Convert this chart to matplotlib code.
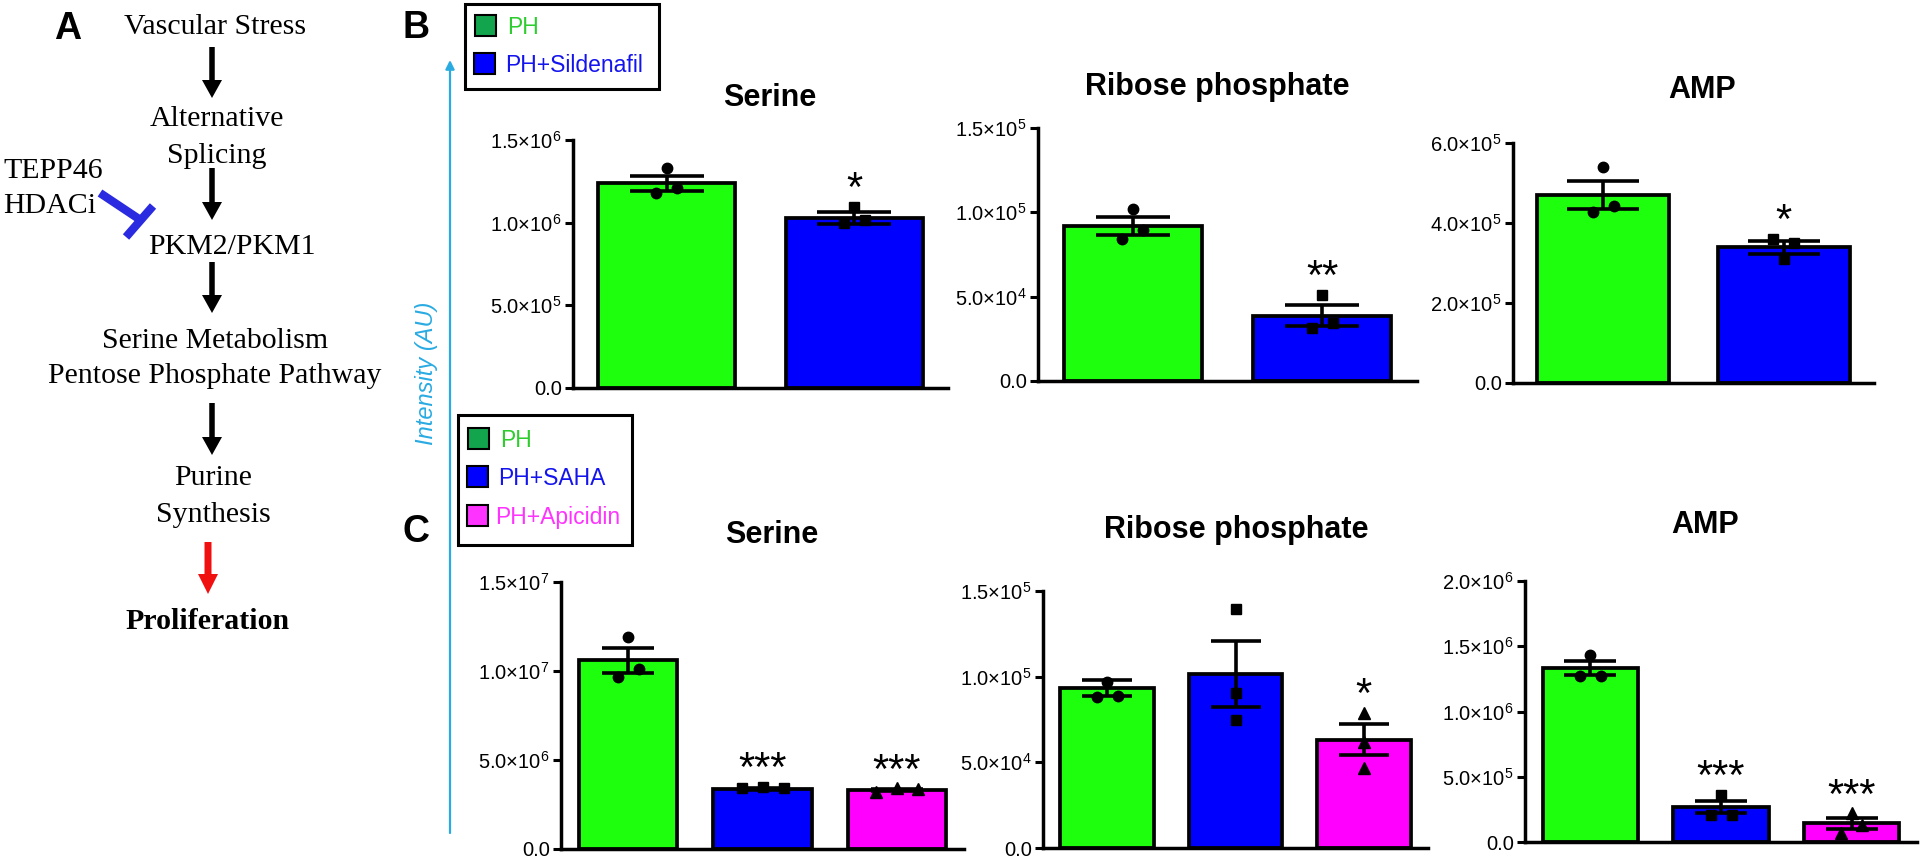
import matplotlib
matplotlib.use("Agg")
import matplotlib.pyplot as plt
from matplotlib.patches import Rectangle, FancyArrow
import numpy as np

plt.rcParams['font.family'] = ['Liberation Sans', 'DejaVu Sans']
plt.rcParams['mathtext.fontset'] = 'custom'
plt.rcParams['mathtext.rm'] = 'Liberation Sans'
plt.rcParams['mathtext.it'] = 'Liberation Sans:italic'
plt.rcParams['mathtext.bf'] = 'Liberation Sans:bold'

# ---------------- data ----------------
groups_B = ['PH', 'PH+Sildenafil']
groups_C = ['PH', 'PH+SAHA', 'PH+Apicidin']

B_serine_mean = [1.238e6, 1.028e6]
B_serine_sem = [0.044e6, 0.038e6]
B_serine_pts = [[1.33e6, 1.18e6, 1.21e6], [1.095e6, 0.998e6, 1.016e6]]
B_serine_sig = ['', '*']
B_serine_ticks = [0, 5e5, 1e6, 1.5e6]

B_ribose_mean = [0.918e5, 0.388e5]
B_ribose_sem = [0.052e5, 0.062e5]
B_ribose_pts = [[1.02e5, 0.84e5, 0.895e5], [0.51e5, 0.314e5, 0.343e5]]
B_ribose_sig = ['', '**']
B_ribose_ticks = [0, 5e4, 1e5, 1.5e5]

B_amp_mean = [4.70e5, 3.39e5]
B_amp_sem = [0.35e5, 0.167e5]
B_amp_pts = [[5.4e5, 4.28e5, 4.43e5], [3.1e5, 3.6e5, 3.5e5]]
B_amp_sig = ['', '*']
B_amp_ticks = [0, 2e5, 4e5, 6e5]

C_serine_mean = [1.059e7, 0.337e7, 0.332e7]
C_serine_sem = [0.068e7, 0.006e7, 0.005e7]
C_serine_pts = [[1.19e7, 0.966e7, 1.01e7], [3.5e6, 3.4e6, 3.45e6], [3.4e6, 3.2e6, 3.38e6]]
C_serine_sig = ['', '***', '***']
C_serine_ticks = [0, 5e6, 1e7, 1.5e7]

C_ribose_mean = [0.935e5, 1.017e5, 0.632e5]
C_ribose_sem = [0.046e5, 0.193e5, 0.090e5]
C_ribose_pts = [[0.97e5, 0.88e5, 0.89e5], [1.395e5, 0.905e5, 0.747e5], [0.788e5, 0.467e5, 0.62e5]]
C_ribose_sig = ['', '', '*']
C_ribose_ticks = [0, 5e4, 1e5, 1.5e5]

C_amp_mean = [1.333e6, 0.268e6, 0.143e6]
C_amp_sem = [0.054e6, 0.049e6, 0.043e6]
C_amp_pts = [[1.433e6, 1.272e6, 1.272e6], [0.36e6, 0.207e6, 0.207e6], [0.22e6, 0.07e6, 0.13e6]]
C_amp_sig = ['', '***', '***']
C_amp_ticks = [0, 5e5, 1e6, 1.5e6, 2e6]

titles = ['Serine', 'Ribose phosphate', 'AMP']

# ---------------- styles ----------------
W, H = 1920, 859
fig = plt.figure(figsize=(W / 100, H / 100), dpi=100)

bar_colors = ['#1eff0e', '#0000ff', '#ff00ff']
markers = ['o', 's', '^']
legend_patch_colors = ['#12a54e', '#0000ff', '#ff33ff']
legend_text_colors = ['#2ecc2e', '#1414ee', '#ff33ff']

ov = fig.add_axes([0, 0, 1, 1])
ov.set_xlim(0, W)
ov.set_ylim(H, 0)
ov.axis('off')


def fmt_tick(v):
    if v == 0:
        return '0.0'
    e = int(np.floor(np.log10(v)))
    m = v / 10 ** e
    return r'$%.1f{\times}10^{%d}$' % (m, e)


def panel(px, groups, means, sems, pts, sigs, ticks, title, title_pos, jit_px):
    x0, x1, ytop, ybot = px
    ax = fig.add_axes([x0 / W, 1 - ybot / H, (x1 - x0) / W, (ybot - ytop) / H])
    n = len(groups)
    xs = np.arange(n)
    spacing_px = (x1 - x0) / n
    bw = 0.73
    ax.bar(xs, means, width=bw, color=bar_colors[:n], edgecolor='black',
           linewidth=2.7, zorder=2)
    cap_pt = 0.27 * bw * spacing_px * 72 / 100
    ax.errorbar(xs, means, yerr=sems, fmt='none', ecolor='black', elinewidth=2.6,
                capsize=cap_pt, capthick=2.6, zorder=4)
    mult = [0, -1, 1]
    for i in range(n):
        jx = [i + mult[k] * jit_px[i] / spacing_px for k in range(len(pts[i]))]
        ax.plot(jx, pts[i], linestyle='none', marker=markers[i], color='black',
                markersize=7.5 if markers[i] != '^' else 8, zorder=5, clip_on=False)
        if sigs[i]:
            top = max(max(pts[i]), means[i] + sems[i])
            ax.annotate(sigs[i], xy=(i, top), xytext=(0, 4), textcoords='offset points',
                        ha='center', va='baseline', fontsize=30, annotation_clip=False)
    ax.set_xlim(-0.5, n - 0.5)
    ax.set_ylim(0, ticks[-1])
    ax.set_yticks(ticks)
    ax.set_yticklabels([fmt_tick(t) for t in ticks])
    ax.tick_params(axis='y', labelsize=14.5, width=2.2, length=6, pad=2)
    ax.set_xticks([])
    for s in ['top', 'right']:
        ax.spines[s].set_visible(False)
    for s in ['left', 'bottom']:
        ax.spines[s].set_linewidth(2.5)
    ax.patch.set_alpha(0)
    ov.text(title_pos[0], title_pos[1], title, ha='center', va='baseline',
            fontsize=22, fontweight='bold')
    return ax


panel((573, 948, 140, 388), groups_B, B_serine_mean, B_serine_sem, B_serine_pts,
      B_serine_sig, B_serine_ticks, titles[0], (770, 106), [10.5, 10.5])
panel((1038, 1417, 128, 381), groups_B, B_ribose_mean, B_ribose_sem, B_ribose_pts,
      B_ribose_sig, B_ribose_ticks, titles[1], (1217, 95), [10.5, 10.5])
panel((1513, 1874, 143, 383), groups_B, B_amp_mean, B_amp_sem, B_amp_pts,
      B_amp_sig, B_amp_ticks, titles[2], (1702, 98), [10.5, 10.5])
panel((561, 964, 582, 849), groups_C, C_serine_mean, C_serine_sem, C_serine_pts,
      C_serine_sig, C_serine_ticks, titles[0], (772, 543), [10.5, 21, 21])
panel((1043, 1428, 591, 848), groups_C, C_ribose_mean, C_ribose_sem, C_ribose_pts,
      C_ribose_sig, C_ribose_ticks, titles[1], (1236, 538), [10.5, 0, 0])
panel((1525, 1917, 581, 842), groups_C, C_amp_mean, C_amp_sem, C_amp_pts,
      C_amp_sig, C_amp_ticks, titles[2], (1705, 533), [10.5, 10.5, 10.5])

# ---------------- legends ----------------
def legend_box(box, rows, labels):
    bx0, by0, bx1, by1 = box
    ov.add_patch(Rectangle((bx0, by0), bx1 - bx0, by1 - by0, fill=False,
                           edgecolor='black', linewidth=2.2))
    for i, (lab, (pxl, cy, tx)) in enumerate(zip(labels, rows)):
        ov.add_patch(Rectangle((pxl, cy - 10.5), 21, 21, facecolor=legend_patch_colors[i],
                               edgecolor='black', linewidth=1.5))
        ov.text(tx, cy, lab, ha='left', va='center_baseline', fontsize=16.5,
                color=legend_text_colors[i])

legend_box((465, 4, 659, 89), [(475, 25, 507), (474, 63, 505)], groups_B)
legend_box((458, 415, 632, 545), [(468, 438, 500), (467, 476, 498), (467, 515, 495)], groups_C)

# intensity axis arrow
ov.annotate('', xy=(450, 60), xytext=(450, 833),
            arrowprops=dict(arrowstyle='-|>', color='#29abe2', lw=1.6, mutation_scale=13,
                            shrinkA=0, shrinkB=0))
ov.text(426, 373, 'Intensity (AU)', rotation=90, ha='center', va='center',
        fontsize=17, style='italic', color='#29abe2')

# panel letters
for lab, (lx, ly) in zip(['A', 'B', 'C'], [(68, 29), (416, 28), (416, 532)]):
    ov.text(lx, ly, lab, ha='center', va='center', fontsize=27, fontweight='bold')

# ---------------- pathway (panel A) ----------------
serif = ['Liberation Serif', 'DejaVu Serif']
flow = [('Vascular Stress', 215, 34, 'normal'),
        ('Alternative', 217, 126, 'normal'),
        ('Splicing', 217, 163, 'normal'),
        ('PKM2/PKM1', 232, 254, 'normal'),
        ('Serine Metabolism', 215, 348, 'normal'),
        ('Pentose Phosphate Pathway', 215, 383, 'normal'),
        ('Purine', 213, 485, 'normal'),
        ('Synthesis', 213, 522, 'normal'),
        ('Proliferation', 207, 629, 'bold')]
for txt, tx, ty, wt in flow:
    ov.text(tx, ty, txt, ha='center', va='baseline', fontsize=21.5,
            family=serif, fontweight=wt)
for txt, ty in [('TEPP46', 178), ('HDACi', 213)]:
    ov.text(3, ty, txt, ha='left', va='baseline', fontsize=21.5, family=serif)

for (ys, ye) in [(47, 98), (168, 220), (262, 313), (403, 455)]:
    ov.add_patch(FancyArrow(212, ys, 0, ye - ys, width=5.5, head_width=20,
                            head_length=18, length_includes_head=True,
                            color='black', linewidth=0))
ov.add_patch(FancyArrow(208, 542, 0, 52, width=7, head_width=20, head_length=20,
                        length_includes_head=True, color='#f01010', linewidth=0))

# inhibition T-bar
ov.plot([100, 139], [193, 219], color='#2a2ae0', lw=6, solid_capstyle='butt')
ov.plot([126, 153], [237, 206], color='#2a2ae0', lw=6, solid_capstyle='butt')

fig.savefig('out.png', dpi=100)
